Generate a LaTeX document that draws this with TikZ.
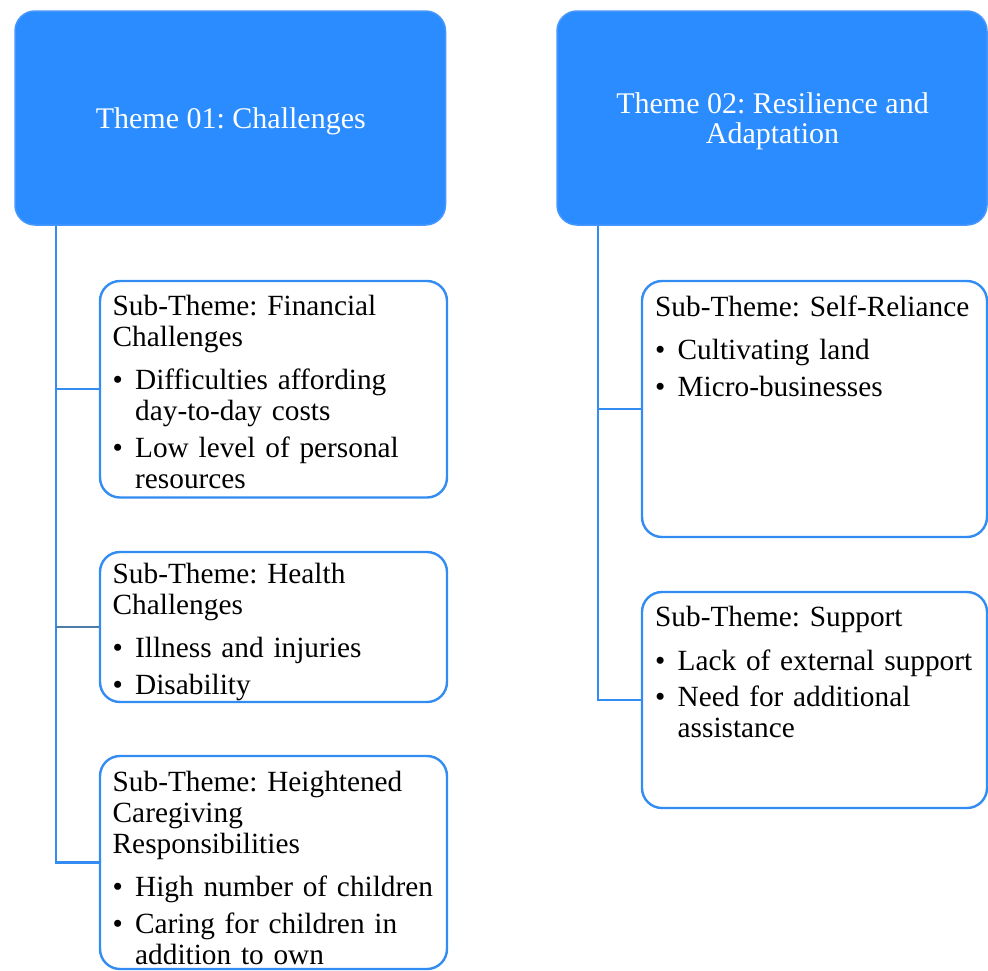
\documentclass[tikz,border=0pt]{standalone}
\usepackage{fontspec}
\setmainfont{Liberation Serif}
\frenchspacing
\definecolor{themefill}{RGB}{42,140,255}
\definecolor{themeedge}{RGB}{70,152,255}
\definecolor{subedge}{RGB}{50,140,242}
\definecolor{connblue}{RGB}{50,140,242}
\definecolor{connsteel}{RGB}{74,126,168}
\tikzset{
  themebox/.style={draw=themeedge, line width=1.5pt, fill=themefill, rounded corners=20pt, inner sep=0pt},
  themetext/.style={text=white, align=center, font=\fontsize{30}{30}\selectfont\frenchspacing, inner sep=0pt},
  subbox/.style={draw=subedge, line width=2.4pt, fill=white, rounded corners=20pt, inner sep=0pt},
  subtext/.style={anchor=north west, inner sep=0pt, text width=340pt, align=left,
    font=\fontsize{29.3}{31}\selectfont\frenchspacing},
  conn/.style={draw=connblue, line width=2.2pt, line join=miter},
  connh/.style={draw=connsteel, line width=2.2pt},
}
\newcommand\bul{\makebox[22.5pt][l]{\textbullet}}
\newcommand\hang{\hspace*{22.5pt}}
\begin{document}
\begin{tikzpicture}[x=1pt,y=-1pt]
\useasboundingbox (0,0) rectangle (988,970);
% theme boxes
\node[themebox, minimum width=430.5pt, minimum height=214pt] (t1) at (230.25,118) {};
\node[themebox, minimum width=430pt, minimum height=214pt] (t2) at (772,118) {};
\node[themetext] (t1T) at ([xshift=0.5pt,yshift=-3pt]t1.center) {Theme 01: Challenges};
\node[themetext] (t2T) at ([xshift=0.5pt,yshift=-3pt]t2.center) {Theme 02: Resilience and\\Adaptation};
% sub boxes
\node[subbox, minimum width=347pt, minimum height=216.5pt] (fin) at (273.5,389.25) {};
\node[subbox, minimum width=347pt, minimum height=150pt] (hea) at (273.5,627) {};
\node[subbox, minimum width=347pt, minimum height=213pt] (care) at (273.5,862.5) {};
\node[subbox, minimum width=345pt, minimum height=256pt] (self) at (814.5,409) {};
\node[subbox, minimum width=345pt, minimum height=216pt] (supp) at (814.5,700) {};
% trunk coordinates
\coordinate (trL) at ([xshift=42pt]t1.south west);
\coordinate (trR) at ([xshift=42pt]t2.south west);
% connectors
\draw[conn] (trL) |- (care.west);
\draw[conn] (trL |- fin.west) -- (fin.west);
\draw[connh] (trL |- hea.west) -- (hea.west);
\draw[conn] (trR) |- (supp.west);
\draw[conn] (trR |- self.west) -- (self.west);
% texts
\node[subtext] (finT) at (112.5,295) {Sub-Theme: Financial\\Challenges\\[12pt]
\bul Difficulties affording\\\hang day-to-day costs\\[6pt]
\bul Low level of personal\\\hang resources};
\node[subtext] (heaT) at (112.5,563) {Sub-Theme: Health\\Challenges\\[12pt]
\bul Illness and injuries\\[5.5pt]
\bul Disability};
\node[subtext] (careT) at (112.5,771.2) {Sub-Theme: Heightened\\Caregiving\\Responsibilities\\[12pt]
\bul High number of children\\[6pt]
\bul Caring for children in\\\hang addition to own};
\node[subtext] (selfT) at (655,295.3) {Sub-Theme: Self-Reliance\\[12.5pt]
\bul Cultivating land\\[5.5pt]
\bul Micro-businesses};
\node[subtext] (suppT) at (655,606.2) {Sub-Theme: Support\\[12.5pt]
\bul Lack of external support\\[5.5pt]
\bul Need for additional\\\hang assistance};
\end{tikzpicture}
\end{document}
